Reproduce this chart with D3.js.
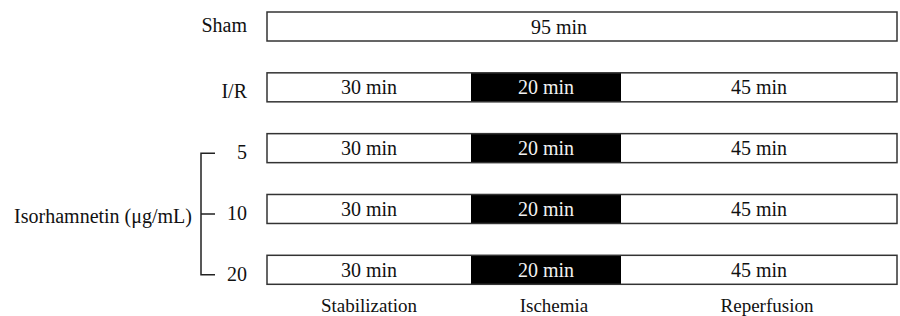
<!DOCTYPE html>
<html>
<head>
<meta charset="utf-8">
<script src="https://cdn.jsdelivr.net/npm/d3@7"></script>
<style>
  body { margin: 0; background: #fff; }
</style>
</head>
<body>
<script>
//------------------------------- data ---------------------------------
const groups = ["Sham", "I/R", "5", "10", "20"];
const phases = ["Stabilization", "Ischemia", "Reperfusion"];
const phaseMinutes = [30, 20, 45];
const shamMinutes = 95;
const doseGroups = ["5", "10", "20"];
const doseLabel = "Isorhamnetin (\u03bcg/mL)";

//------------------------------- init ---------------------------------
const width = 900,
    height = 316,
    barH = 29,
    fontSize = 20,
    serif = '"Liberation Serif"';

const bounds = [0, ...d3.cumsum(phaseMinutes)];

// segments are not drawn to time scale in the figure, so the scale is piecewise
const xScale = d3.scaleLinear().domain(bounds).range([267, 471, 621, 897]);
const yScale = d3.scalePoint().domain(groups).range([26.5, 269.8]);

const svg = d3.select("body").append("svg")
    .attr("width", width)
    .attr("height", height);

//------------------------------- rows ---------------------------------
groups.forEach(function(g) {
  const row = svg.append("g")
      .attr("transform", `translate(0,${yScale(g) - barH / 2})`);

  const segs = g === "Sham"
      ? [{start: 0, end: shamMinutes, min: shamMinutes, dark: false}]
      : phaseMinutes.map((m, i) => ({start: bounds[i], end: bounds[i + 1], min: m, dark: i === 1}));

  row.selectAll("rect.seg")
    .data(segs)
    .join("rect")
      .attr("class", "seg")
      .attr("x", d => xScale(d.start))
      .attr("y", 0)
      .attr("width", d => xScale(d.end) - xScale(d.start))
      .attr("height", barH)
      .attr("fill", d => d.dark ? "#000" : "#fff");

  row.append("rect")
      .attr("x", xScale(0))
      .attr("width", xScale(bounds[bounds.length - 1]) - xScale(0))
      .attr("height", barH)
      .attr("fill", "none")
      .attr("stroke", "#333")
      .attr("stroke-width", 1.5);

  row.selectAll("text.min")
    .data(segs)
    .join("text")
      .attr("class", "min")
      .attr("x", d => (xScale(d.start) + xScale(d.end)) / 2 - (g === "Sham" ? 23 : 0))
      .attr("y", barH / 2 + 7)
      .attr("text-anchor", "middle")
      .style("font-family", serif)
      .attr("font-size", fontSize)
      .attr("fill", d => d.dark ? "#f2f2f2" : "#111")
      .text(d => d.min + " min");

  // row label
  svg.append("text")
      .attr("x", 247)
      .attr("y", yScale(g) + (g === "Sham" ? 5.5 : 11))
      .attr("text-anchor", "end")
      .style("font-family", serif)
      .attr("font-size", fontSize)
      .attr("fill", "#111")
      .text(g);
});

//------------------------------- bracket ------------------------------
const bx = 201, tick = 14;
const by = doseGroups.map(g => yScale(g) + 5);
svg.append("path")
    .attr("d", `M ${bx + tick} ${by[0]} H ${bx} V ${by[2]} H ${bx + tick} M ${bx} ${by[1]} H ${bx + tick}`)
    .attr("fill", "none")
    .attr("stroke", "#222")
    .attr("stroke-width", 1.5);

svg.append("text")
    .attr("x", 192)
    .attr("y", by[1] + 9.5)
    .attr("text-anchor", "end")
    .style("font-family", serif)
    .attr("font-size", fontSize)
    .attr("fill", "#111")
    .text(doseLabel);

//------------------------------- phase labels -------------------------
svg.selectAll("text.phase")
  .data(phases)
  .join("text")
    .attr("class", "phase")
    .attr("x", (d, i) => (xScale(bounds[i]) + xScale(bounds[i + 1])) / 2 + (i === 0 ? 0 : 8))
    .attr("y", 311.5)
    .attr("text-anchor", "middle")
    .style("font-family", serif)
    .attr("font-size", 19)
    .attr("fill", "#111")
    .text(d => d);
</script>
</body>
</html>
